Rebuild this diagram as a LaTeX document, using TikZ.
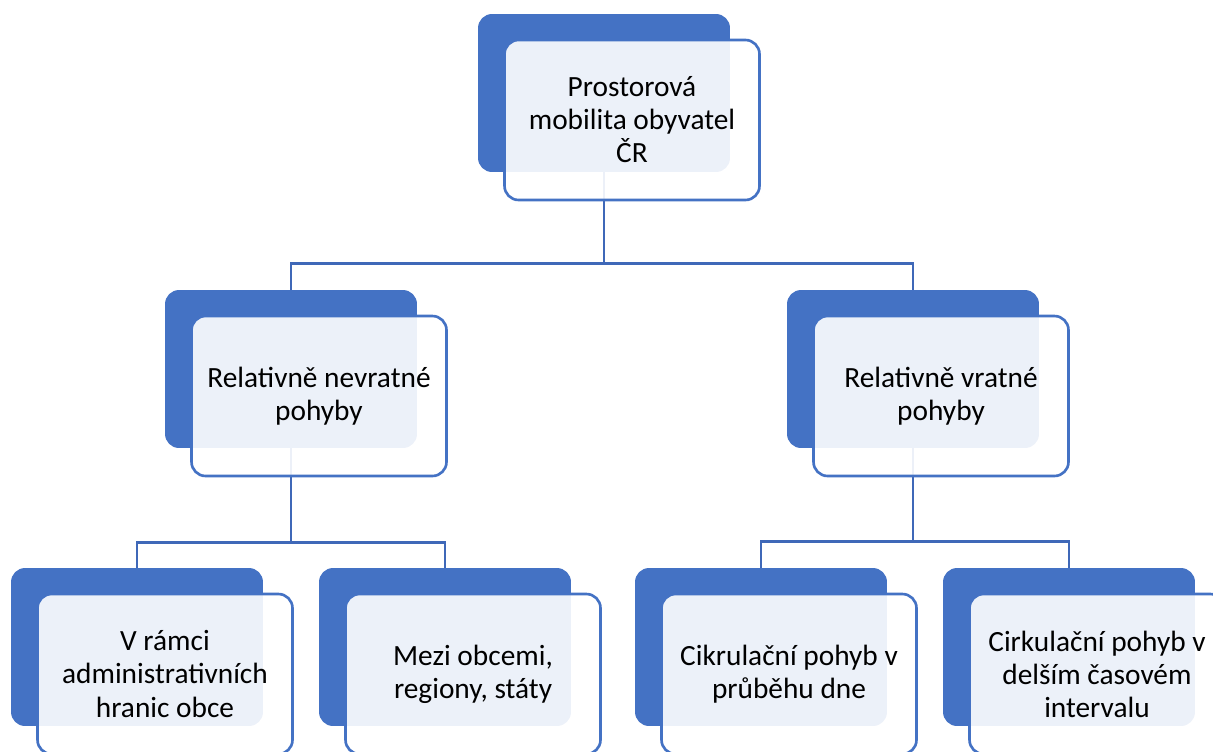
\documentclass[tikz,border=0pt]{standalone}
\usepackage{fontspec}
\setmainfont{Carlito}
\usepackage{xcolor}
\usetikzlibrary{positioning,backgrounds,calc}
\definecolor{MOBblue}{HTML}{4472C4}
\definecolor{MOBline}{HTML}{3F68B8}

\begin{document}
\begin{tikzpicture}[x=0.02cm,y=-0.02cm,
    backbox/.style={fill=MOBblue,rounded corners=0.28cm,inner sep=0pt,
      minimum width=5.04cm,minimum height=3.16cm},
    frontbox/.style={draw=MOBblue,line width=1.5pt,fill=white,fill opacity=0.9,
      text opacity=1,rounded corners=0.28cm,inner sep=0pt,align=center,
      minimum width=5.1cm,minimum height=3.2cm,
      font=\fontsize{16.7}{18.8}\selectfont},
    link/.style={draw=MOBline,line width=1.6pt}]
  \useasboundingbox (0,0) rectangle (1213,751);

  % back plates
  \node[backbox] (topb) at (604,93) {};
  \node[backbox] (nevb) at (291,369) {};
  \node[backbox] (vrab) at (913,369) {};
  \node[backbox] (ramb) at (137,647) {};
  \node[backbox] (mezb) at (445,647) {};
  \node[backbox] (denb) at (761,647) {};
  \node[backbox] (casb) at (1069,647) {};

  % front boxes with the texts
  \node[frontbox] (top) at ([shift={(28,27)}]topb) {Prostorová\\mobilita obyvatel\\ČR};
  \node[frontbox] (nev) at ([shift={(28,27)}]nevb) {Relativně nevratné\\pohyby};
  \node[frontbox] (vra) at ([shift={(28,27)}]vrab) {Relativně vratné\\pohyby};
  \node[frontbox] (ram) at ([shift={(28,27)}]ramb) {V rámci\\administrativních\\hranic obce};
  \node[frontbox] (mez) at ([shift={(28,27)}]mezb) {Mezi obcemi,\\regiony, státy};
  \node[frontbox] (den) at ([shift={(28,27)}]denb) {Cikrulační pohyb v\\průběhu dne};
  \node[frontbox] (cas) at ([shift={(28,27)}]casb) {Cirkulační pohyb v\\delším časovém\\intervalu};

  % tree lines
  \begin{scope}[on background layer]
    \draw[link] (topb.south) -- ++(0,91) -| (nevb.north);
    \draw[link] (topb.south) -- ++(0,91) -| (vrab.north);
    \draw[link] (nevb.south) -- ++(0,94) -| (ramb.north);
    \draw[link] (nevb.south) -- ++(0,94) -| (mezb.north);
    \draw[link] (vrab.south) -- ++(0,93) -| (denb.north);
    \draw[link] (vrab.south) -- ++(0,93) -| (casb.north);
  \end{scope}
\end{tikzpicture}
\end{document}
